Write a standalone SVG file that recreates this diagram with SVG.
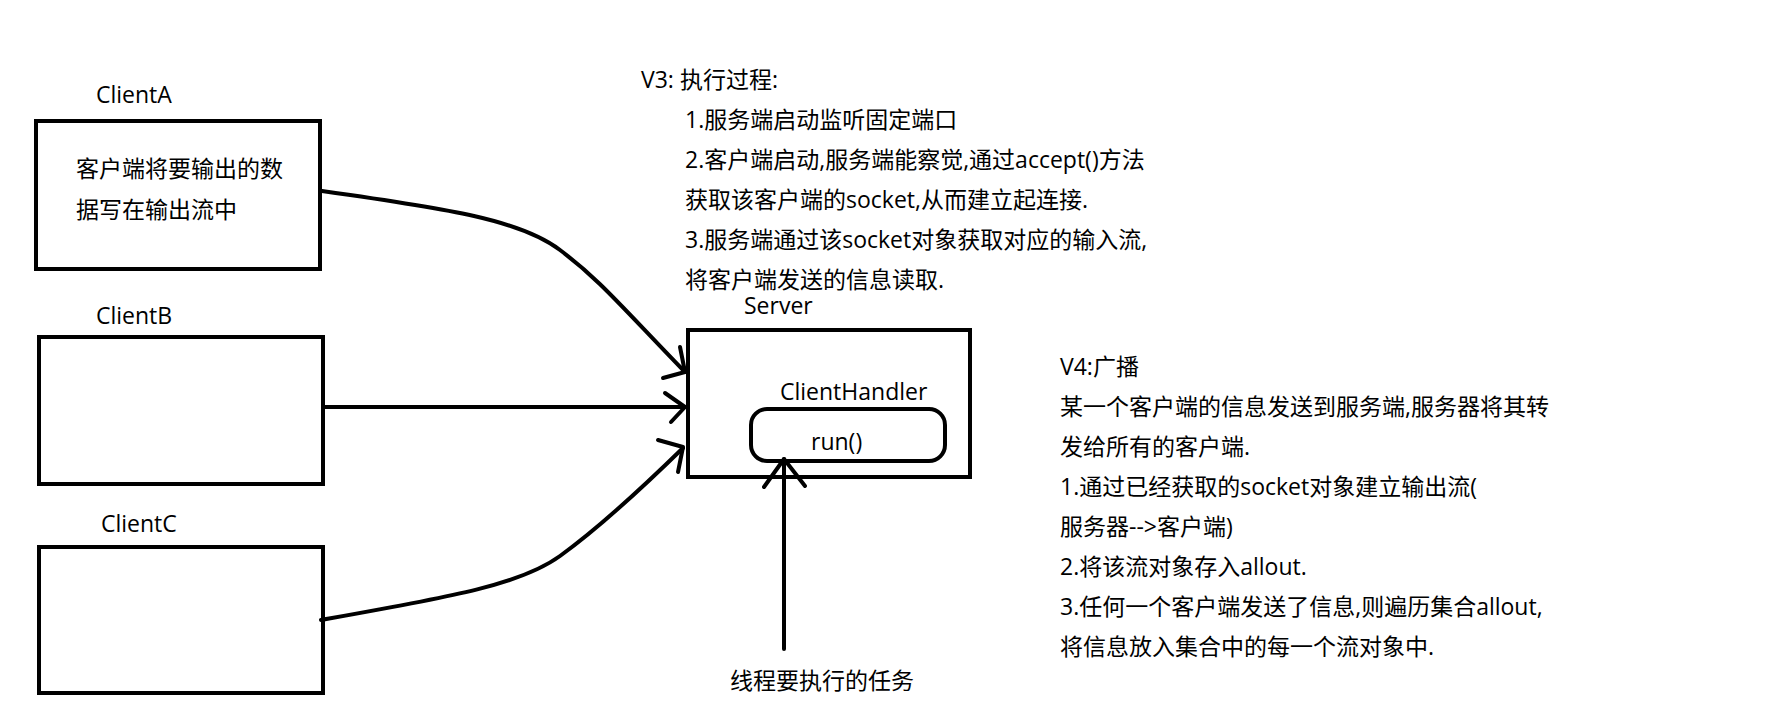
<svg xmlns="http://www.w3.org/2000/svg" width="1771" height="722" viewBox="0 0 1771 722">
<style>
.box{fill:none;stroke:#000;stroke-width:4}
.ln{fill:none;stroke:#000;stroke-width:4;stroke-linecap:round;stroke-linejoin:round}
text{font-family:"Open Sans","Noto Sans CJK SC",sans-serif;font-size:23px;fill:#000}
</style>
<rect width="1771" height="722" fill="#fff"/>
<g id="clientA">
<text x="96" y="103">ClientA</text>
<rect class="box" x="36" y="121" width="284" height="148"/>
<text x="76" y="177">客户端将要输出的数</text>
<text x="76" y="218">据写在输出流中</text>
</g>
<g id="clientB">
<text x="96" y="324">ClientB</text>
<rect class="box" x="39" y="337" width="284" height="147"/>
</g>
<g id="clientC">
<text x="101" y="532">ClientC</text>
<rect class="box" x="39" y="547" width="284" height="146"/>
</g>
<g id="server">
<text x="744" y="314">Server</text>
<rect class="box" x="688" y="330" width="282" height="147"/>
<text x="780" y="400">ClientHandler</text>
</g>
<g id="run">
<rect class="box" x="751" y="409" width="194" height="52" rx="16" ry="16"/>
<text x="811" y="450">run()</text>
</g>
<g id="task">
<text x="730" y="689">线程要执行的任务</text>
</g>
<g id="v3">
<text x="641" y="88">V3: 执行过程:</text>
<text x="685" y="128">1.服务端启动监听固定端口</text>
<text x="685" y="168">2.客户端启动,服务端能察觉,通过accept()方法</text>
<text x="685" y="208">获取该客户端的socket,从而建立起连接.</text>
<text x="685" y="248">3.服务端通过该socket对象获取对应的输入流,</text>
<text x="685" y="288">将客户端发送的信息读取.</text>
</g>
<g id="v4">
<text x="1060" y="375">V4:广播</text>
<text x="1060" y="415">某一个客户端的信息发送到服务端,服务器将其转</text>
<text x="1060" y="455">发给所有的客户端.</text>
<text x="1060" y="495">1.通过已经获取的socket对象建立输出流(</text>
<text x="1060" y="535">服务器--&gt;客户端)</text>
<text x="1060" y="575">2.将该流对象存入allout.</text>
<text x="1060" y="615">3.任何一个客户端发送了信息,则遍历集合allout,</text>
<text x="1060" y="655">将信息放入集合中的每一个流对象中.</text>
</g>
<g id="connectors">
<path class="ln" d="M322,191 C450,209 520,220 560,250 S620,305 685,372"/>
<polyline class="ln" points="680,347 685,372 663,378"/>
<path class="ln" d="M323,407 L685,407"/>
<polyline class="ln" points="665,393 685,407 671,422"/>
<path class="ln" d="M321,620 C450,597 520,585 560,556 S640,490 683,448"/>
<polyline class="ln" points="658,440 683,447 678,472"/>
<path class="ln" d="M784,649 L784,459"/>
<polyline class="ln" points="764,487 784,459 805,486"/>
</g>
</svg>
